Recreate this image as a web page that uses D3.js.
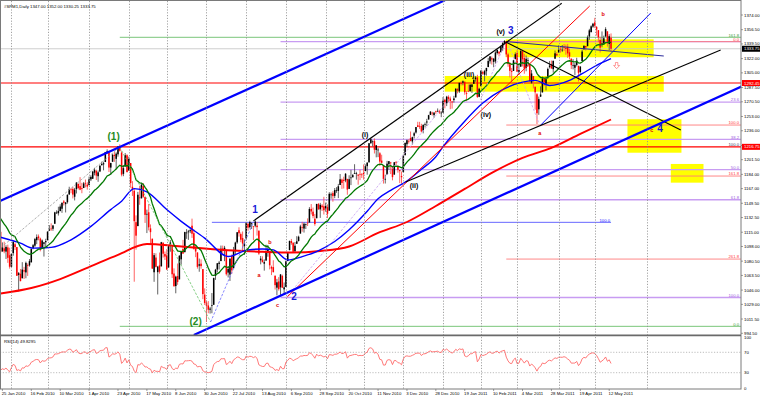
<!DOCTYPE html>
<html lang="en">
<head>
<meta charset="UTF-8">
<title>#SPM1,Daily</title>
<script src="https://d3js.org/d3.v7.min.js"></script>
<style>
  html, body { margin: 0; padding: 0; background: #fff; }
  svg { display: block; font-family: "Liberation Sans", "DejaVu Sans", Arial, sans-serif; }
  .ax { font-size: 4.3px; fill: #000; }
  .fib { font-size: 4.2px; text-anchor: end; }
  .wave { font-weight: bold; text-anchor: middle; dominant-baseline: middle; }
  .labels { opacity: 0.99; }
</style>
</head>
<body>
<div id="chart"></div>
<script>
// closes before the first visible bar, only used to warm up EMA / RSI
const warmupClose = [1127.8, 1126.2, 1126.4, 1115.1, 1133.0, 1136.5, 1137.1, 1141.7, 1145.0, 1147.0,
  1136.2, 1145.7, 1148.5, 1136.0, 1138.0, 1150.2, 1138.0, 1116.5];

// daily bars from 22 Jan 2010 to 13 May 2011
const firstDay = "2010-01-22";
const closedDays = ["2010-12-24", "2011-04-22"];

const open = [
  1115.5,1092.0,1095.8,1091.9,1096.9,1087.6,
  1073.9,1090.1,1100.7,1097.3,1064.1,1065.5,1060.1,1069.7,1067.1,1075.9,1075.5,1079.1,1096.1,1099.0,1105.5,1110.0,1107.5,1095.9,1101.2,1103.1,
  1105.4,1117.0,1119.4,1119.1,1125.1,1138.4,1137.6,1140.2,1143.0,1151.7,1148.5,1150.8,1159.9,1166.1,1166.7,1157.3,1166.5,1172.7,1170.0,1167.6,1167.7,1173.8,1171.8,
  1171.2,1178.0,1178.7,1186.0,1188.2,1181.8,1187.5,1194.9,1195.9,1198.7,1210.8,1210.2,1192.1,1199.0,1207.2,1202.5,1207.9,1217.1,1209.9,1184.6,1193.3,1206.8,
  1188.6,1197.5,1169.2,1164.4,1127.0,1122.3,1156.4,1155.4,1170.0,1157.2,1136.5,1138.8,1119.6,1107.3,1067.3,1084.8,1067.4,1075.5,1074.3,1102.6,1089.0,
  1087.3,1073.0,1098.8,1098.4,1065.8,1050.8,1062.8,1058.8,1082.7,1095.0,1091.2,1114.0,1115.0,1116.2,1122.8,1113.9,1095.6,1090.9,1075.1,1077.5,1071.1,1040.6,
  1031.1,1027.7,1022.6,1028.1,1028.5,1062.9,1070.5,1077.2,1080.6,1095.6,1094.5,1093.9,1066.9,1064.5,1086.7,1072.1,1092.2,1102.9,1117.4,1112.8,1108.1,1098.4,
  1107.5,1125.3,1121.1,1125.8,1122.1,1122.8,1122.9,1116.9,1081.5,1082.2,1077.5,1081.2,1092.1,1092.4,1073.6,1073.4,1063.2,1048.9,1056.3,1049.3,1062.9,1046.9,
  1049.7,1080.7,1093.6,1104.5,1102.6,1092.4,1101.2,1104.6,1113.4,1121.2,1119.4,1123.9,1126.4,1126.6,1142.8,1139.5,1131.1,1131.7,1148.6,1142.3,1146.8,1145.9,
  1143.5,1144.9,1140.7,1159.8,1161.6,1158.4,1165.3,1164.3,1171.3,1177.8,1177.5,1176.8,1178.6,1166.7,1179.8,1180.5,1184.7,1184.9,1183.8,1184.5,1183.9,
  1185.7,1187.9,1193.8,1198.3,1221.2,1223.2,1223.6,1213.1,1213.0,1209.1,1200.4,1194.8,1178.3,1183.8,1196.1,1198.1,1192.5,1183.7,1198.4,1194.2,1189.1,1182.0,
  1186.6,1206.8,1219.9,1223.9,1227.3,1223.2,1230.1,1233.9,1242.5,1241.8,1241.6,1236.3,1243.6,1245.8,1249.4,1254.9,1257.5,1254.7,1259.1,1258.8,1259.4,1256.8,
  1257.6,1272.9,1268.8,1276.3,1274.4,1270.8,1272.6,1275.7,1285.8,1282.9,1293.2,1293.2,1294.5,1280.9,1283.6,1283.3,1288.2,1292.0,1297.5,1299.6,1276.5,
  1289.1,1305.9,1302.8,1307.0,1311.9,1318.8,1322.5,1318.1,1318.7,1328.7,1330.4,1329.6,1334.4,1340.4,1343.0,1327.0,1315.4,1307.1,1307.3,1321.6,
  1328.6,1305.9,1312.4,1330.7,1322.7,1311.1,1319.9,1315.7,1293.4,1301.2,1288.5,1279.5,1261.6,1276.7,1281.7,1298.3,1292.2,1300.6,1311.8,1315.5,1309.4,1321.9,1327.4,
  1329.5,1333.6,1332.0,1335.9,1334.8,1336.2,1329.5,1322.0,1314.0,1311.1,1314.5,1313.4,1306.0,1319.1,1333.2,1337.1,1336.8,1348.4,1353.5,1360.1,
  1365.2,1359.8,1355.9,1344.2,1340.2,1340.2,1348.3,1354.5,1339.4,1347.0
];
const high = [
  1115.5,1102.9,1103.7,1099.5,1100.2,1096.5,
  1089.4,1104.7,1102.7,1097.4,1067.6,1071.2,1079.3,1073.7,1080.0,1077.8,1083.0,1095.7,1101.0,1108.2,1112.4,1112.3,1108.6,1106.4,1103.5,1107.2,
  1116.1,1123.5,1125.6,1123.7,1139.4,1141.1,1145.4,1148.3,1150.2,1153.4,1151.0,1160.3,1169.2,1167.8,1169.2,1167.8,1174.7,1173.0,1180.7,1173.9,1174.9,1177.8,1174.6,
  1181.4,1183.0,1187.7,1191.8,1189.6,1188.6,1194.7,1199.2,1199.0,1210.7,1213.9,1210.2,1197.9,1208.6,1210.9,1210.3,1217.3,1219.8,1211.4,1195.1,1209.4,1207.9,
  1205.1,1197.5,1175.9,1167.6,1135.1,1163.1,1170.5,1172.9,1173.6,1157.2,1141.9,1148.7,1124.3,1107.3,1090.2,1089.9,1074.8,1090.8,1103.5,1102.6,1092.0,
  1094.8,1098.6,1105.7,1098.4,1071.9,1063.2,1077.7,1087.8,1092.0,1105.9,1115.6,1118.7,1117.7,1121.0,1131.2,1118.5,1099.6,1090.9,1083.6,1082.6,1071.1,1048.1,
  1033.6,1032.9,1026.0,1042.5,1060.9,1071.3,1078.2,1080.8,1099.1,1099.1,1098.7,1093.9,1074.7,1083.9,1088.5,1097.5,1103.7,1115.0,1120.9,1114.7,1115.9,1106.4,
  1127.3,1125.4,1128.8,1126.6,1122.1,1129.2,1127.2,1116.9,1086.7,1086.3,1082.6,1100.1,1099.8,1092.4,1075.2,1081.6,1063.2,1059.4,1061.5,1065.2,1064.4,1055.1,
  1081.3,1090.1,1105.1,1107.0,1102.6,1103.3,1110.3,1110.9,1123.9,1127.4,1126.5,1125.4,1131.5,1144.9,1148.6,1144.4,1136.8,1148.9,1149.9,1150.0,1148.6,1157.2,
  1150.3,1148.2,1162.8,1162.3,1163.9,1167.7,1168.7,1172.6,1184.4,1178.9,1181.2,1185.5,1178.6,1182.9,1189.4,1184.4,1196.1,1187.1,1183.8,1189.5,1185.5,
  1195.8,1195.9,1198.3,1221.3,1227.1,1224.6,1226.8,1218.8,1215.5,1210.5,1207.4,1194.8,1183.6,1200.1,1199.9,1198.9,1192.5,1198.6,1200.0,1194.2,1189.1,1187.4,
  1207.6,1221.9,1225.6,1225.8,1235.1,1228.9,1234.7,1240.4,1246.7,1246.6,1244.3,1243.8,1245.8,1250.2,1255.0,1259.4,1258.6,1258.4,1259.9,1262.6,1261.0,1259.3,
  1276.2,1274.1,1277.6,1278.2,1276.8,1271.5,1277.6,1286.9,1287.0,1293.2,1295.0,1296.1,1294.6,1283.4,1291.2,1291.9,1291.3,1299.7,1301.3,1302.7,1287.2,
  1308.1,1307.6,1308.6,1311.0,1322.9,1324.9,1324.5,1322.8,1330.8,1333.0,1330.4,1337.6,1341.5,1344.1,1343.0,1329.0,1317.9,1310.9,1320.6,1329.4,
  1332.1,1314.4,1332.3,1331.1,1327.7,1325.7,1323.2,1315.7,1308.4,1301.2,1288.5,1280.9,1276.7,1288.9,1300.6,1299.0,1300.5,1311.3,1319.2,1319.7,1319.5,1331.7,1329.8,
  1337.9,1336.7,1338.2,1339.4,1338.8,1339.5,1333.8,1322.0,1321.4,1316.8,1323.0,1313.4,1312.7,1332.7,1337.5,1337.1,1349.6,1357.5,1361.7,1364.6,
  1370.6,1360.8,1355.9,1348.0,1354.4,1349.4,1359.4,1354.5,1351.1,1352.0
];
const low = [
  1090.2,1092.0,1089.9,1083.1,1078.5,1071.6,
  1073.9,1087.0,1093.8,1062.8,1044.5,1056.5,1060.1,1059.3,1060.1,1062.9,1074.0,1079.1,1094.7,1097.5,1100.8,1105.4,1092.2,1095.9,1086.0,1097.6,
  1105.4,1116.5,1116.6,1116.7,1125.1,1136.8,1134.9,1140.1,1138.1,1146.9,1138.6,1149.1,1159.9,1161.5,1155.3,1152.9,1161.2,1166.0,1165.1,1161.5,1167.7,1168.5,1165.8,
  1170.7,1176.0,1178.7,1182.8,1177.3,1175.1,1186.7,1194.7,1188.8,1198.7,1208.5,1186.8,1183.7,1199.0,1198.9,1190.2,1205.1,1211.1,1181.6,1181.8,1193.3,1186.3,
  1188.6,1168.1,1158.2,1056.0,1094.2,1122.3,1147.7,1155.4,1156.1,1126.1,1114.0,1117.2,1100.7,1071.6,1055.9,1073.0,1040.8,1065.6,1074.3,1084.8,1082.0,
  1069.9,1072.6,1091.8,1060.5,1050.5,1042.2,1052.3,1058.8,1076.3,1089.0,1091.2,1107.1,1105.9,1113.9,1108.2,1094.2,1085.3,1071.6,1067.9,1071.5,1035.2,1028.3,
  1008.0,1018.4,1018.0,1018.4,1028.5,1058.2,1067.1,1070.5,1080.6,1087.7,1080.5,1063.3,1061.1,1056.9,1065.3,1072.1,1087.9,1101.3,1109.8,1103.1,1092.8,1088.0,
  1107.5,1116.8,1119.5,1118.9,1105.6,1120.9,1111.0,1088.0,1076.7,1079.0,1069.2,1081.2,1085.8,1070.7,1063.9,1067.1,1046.7,1039.8,1045.4,1039.7,1048.8,1040.9,
  1049.7,1080.4,1093.6,1100.0,1091.2,1091.4,1101.2,1103.9,1113.4,1115.6,1114.6,1118.9,1122.4,1126.6,1136.2,1131.6,1122.8,1131.7,1142.0,1132.1,1140.3,1136.1,
  1139.4,1131.9,1140.7,1154.9,1151.4,1155.6,1162.0,1155.7,1171.3,1166.7,1167.1,1174.6,1159.7,1166.7,1171.2,1180.5,1184.7,1177.7,1171.7,1177.1,1179.7,
  1177.7,1187.9,1183.6,1198.3,1220.3,1217.2,1208.9,1204.3,1204.5,1194.1,1197.2,1173.0,1173.1,1183.8,1189.4,1184.3,1176.9,1183.7,1195.0,1186.0,1173.6,1173.0,
  1186.6,1206.8,1216.6,1220.7,1223.3,1219.5,1226.9,1232.6,1240.3,1238.2,1234.0,1232.9,1239.9,1241.5,1249.4,1254.9,1254.1,1251.5,1256.2,1258.8,1256.1,1252.2,
  1257.6,1262.7,1265.4,1270.4,1261.7,1262.3,1269.6,1275.7,1280.5,1281.1,1290.0,1290.2,1278.9,1271.3,1282.1,1282.5,1281.1,1292.0,1294.4,1275.1,1276.0,
  1289.1,1302.6,1294.8,1301.7,1311.9,1316.0,1314.9,1311.7,1316.1,1326.9,1324.6,1329.6,1331.0,1338.1,1324.0,1312.3,1299.6,1294.3,1307.3,1320.9,
  1306.1,1302.6,1312.4,1312.6,1304.0,1306.9,1312.3,1294.2,1292.0,1286.4,1261.1,1244.0,1255.0,1276.2,1281.7,1289.2,1284.1,1297.7,1310.2,1310.2,1305.3,1321.9,1325.0,
  1328.9,1329.1,1330.0,1331.1,1326.6,1322.9,1321.1,1309.5,1309.2,1302.4,1312.7,1294.7,1304.0,1319.1,1332.5,1331.6,1336.8,1344.3,1353.5,1358.7,
  1358.6,1349.5,1341.5,1329.2,1335.6,1338.6,1348.3,1336.4,1332.0,1330.25
];
const close = [
  1091.8,1096.8,1092.2,1097.5,1084.5,1073.9,
  1089.2,1103.3,1097.3,1063.1,1066.2,1056.7,1070.5,1068.1,1078.5,1075.5,1080.5,1094.9,1099.5,1106.8,1109.2,1108.0,1094.6,1105.2,1102.9,1104.5,
  1115.7,1118.3,1118.8,1123.0,1138.7,1138.5,1140.4,1145.6,1150.2,1150.0,1150.5,1159.5,1166.2,1165.8,1159.9,1165.8,1174.2,1167.7,1165.7,1166.6,1173.2,1173.3,1169.4,
  1178.1,1181.0,1187.4,1189.4,1182.5,1186.4,1194.4,1196.5,1197.3,1210.7,1211.7,1192.1,1197.5,1207.2,1205.9,1208.7,1217.3,1212.1,1183.7,1191.4,1206.8,1186.7,
  1202.3,1173.6,1165.9,1128.2,1110.9,1159.7,1155.8,1171.7,1157.4,1135.7,1136.9,1120.8,1115.1,1071.6,1087.7,1073.7,1074.0,1068.0,1103.1,1089.4,1086.0,
  1070.7,1098.4,1102.8,1064.9,1050.5,1062.0,1055.7,1086.8,1091.6,1089.6,1115.2,1114.6,1116.0,1117.5,1113.2,1095.3,1092.0,1073.7,1076.8,1074.6,1041.2,1030.7,
  1027.4,1022.6,1024.0,1028.1,1060.3,1070.3,1078.0,1078.8,1095.3,1095.2,1096.5,1064.9,1071.3,1083.5,1069.6,1093.7,1102.7,1115.0,1113.8,1106.1,1101.5,1101.6,
  1125.9,1120.5,1127.2,1125.8,1121.6,1127.8,1121.1,1089.5,1083.6,1079.3,1079.4,1092.5,1094.2,1075.6,1071.7,1067.4,1051.9,1055.3,1047.2,1064.6,1048.9,1049.3,
  1080.3,1090.1,1104.5,1102.0,1091.8,1098.9,1104.2,1109.6,1121.9,1121.1,1125.1,1124.7,1125.6,1142.7,1139.8,1134.3,1124.8,1148.7,1142.2,1147.7,1144.7,1141.2,
  1146.2,1137.0,1160.8,1160.0,1158.1,1165.2,1165.3,1169.8,1178.1,1173.8,1176.2,1184.7,1165.9,1178.2,1180.3,1183.1,1185.6,1185.6,1182.4,1183.8,1183.3,
  1184.4,1193.6,1198.0,1221.1,1225.9,1223.3,1213.4,1218.7,1213.5,1199.2,1197.8,1178.3,1178.6,1196.7,1199.7,1197.8,1180.7,1198.4,1197.5,1189.4,1187.8,1180.6,
  1206.1,1221.5,1224.7,1223.1,1223.8,1228.3,1233.0,1240.4,1240.5,1241.6,1235.2,1242.9,1243.9,1247.1,1254.6,1258.8,1256.8,1257.5,1258.5,1259.8,1257.9,1257.6,
  1271.9,1270.2,1276.6,1273.9,1271.5,1269.8,1274.5,1286.0,1283.8,1293.2,1292.0,1295.0,1281.9,1280.3,1283.4,1290.8,1291.2,1296.6,1299.5,1276.3,1286.1,
  1307.6,1304.0,1307.1,1310.9,1319.1,1324.6,1320.9,1321.9,1329.2,1332.3,1328.0,1336.3,1340.4,1343.0,1327.0,1315.4,1307.4,1306.1,1319.9,1327.2,
  1306.3,1308.4,1331.0,1321.2,1310.1,1321.8,1320.0,1295.1,1304.3,1296.4,1281.9,1256.9,1273.7,1279.2,1298.4,1293.8,1297.5,1309.7,1313.8,1310.2,1319.4,1328.3,1325.8,
  1332.4,1332.9,1332.6,1335.5,1333.5,1328.2,1324.5,1314.2,1314.4,1314.5,1319.7,1305.1,1312.6,1330.4,1337.4,1335.3,1347.2,1355.7,1360.5,1363.6,
  1361.2,1356.6,1347.3,1335.1,1340.2,1346.3,1357.2,1342.1,1348.7,1333.75
];

// moving averages: [bar index, price]
const ma50 = [[0,1109],[11,1102],[18,1096],[28,1097],[39,1106],[50,1122],[61,1142],[67,1152],[74,1167],[81,1163],
  [92,1142],[100,1128],[113,1108],[126,1086],[137,1094],[145,1095],[151,1094],[159,1082],[167,1086],[175,1092],
  [185,1104],[193,1118],[203,1140],[209,1155],[216,1165],[225,1176],[233,1190],[241,1205],[245,1217],[256,1245],
  [267,1269],[278,1285],[289,1294],[296,1296],[304,1290],[315,1296],[322,1304],[330,1314],[338,1322]];
const ma200 = [[0,1042],[17,1048.5],[33,1059.2],[49,1073.5],[65,1088],[81,1101],[97,1098.6],[113,1095.6],
  [129,1093.2],[145,1091.7],[161,1090.8],[177,1092.6],[193,1098],[209,1114.1],[225,1127.2],[241,1146.3],
  [257,1166.7],[273,1186.9],[289,1203.6],[305,1215.5],[321,1232.2],[338,1249.4]];

// price axis
const priceTicks = ["1374.00","1356.50","1339.50","1322.00","1305.00","1287.50","1270.50","1253.00","1236.00",
  "1218.50","1201.50","1184.00","1167.00","1149.50","1132.50","1115.00","1098.00","1080.50","1063.50","1046.00",
  "1029.00","1011.50","994.50"];
const rsiTicks = [100, 70, 30, 0];
const rsiLevels = [70, 30];
const headerText = "#SPM1,Daily  1347.00 1352.00 1330.25 1333.75";
const rsiText = "RSI(14) 49.8295";
const bidPrice = 1333.75;
const futureGrid = [358];

// horizontal levels
const redLevels = [{price: 1292.9, label: "1292.45"}, {price: 1216.8, label: "1216.75"}];
const greenFib = {from: 66, levels: [["161.8", 1347.4], ["0.0", 1002.8]]};
const purpleFib = {from: 155, levels: [["", 1342.2], ["23.6", 1270.2], ["38.2", 1225.7], ["50.0", 1189.7], ["61.8", 1153.7], ["100.0", 1037.2]]};
const redFib = {from: 280, levels: [["0.0", 1342.2], ["100.0", 1242.8], ["161.8", 1182.0], ["261.8", 1083.0]]};
const blueLevel = {from: 117, to: 338, price: 1126.8, label: "100.0"};

// trend lines: [[bar, price], [bar, price]]
const channelUpper = [[0, 1152.5], [246, 1391.5]];
const channelLower = [[107, 992.5], [410.5, 1289]];
const blackUpper = [[140, 1128.5], [310.7, 1388]];
const blackLower = [[224.3, 1175], [398.7, 1332.3]];
const blackDown = [[279.7, 1341.8], [376.6, 1236.9]];
const redRay = [[158.8, 1038.1], [326.2, 1384.7]];
const blueRay = [[299.1, 1242.8], [360, 1376.4]];
const navyLine = [[280.6, 1342.2], [367.2, 1325.1]];
const waveLinks = [
  {pts: [[1.9, 1099.8], [65.4, 1215.4]], c: "#9a9a9a"},
  {pts: [[66, 1216.6], [116.3, 1008]], c: "#66c266"},
  {pts: [[116.3, 1008], [140.1, 1127.6]], c: "#6a6aff"},
  {pts: [[159, 1039], [246.6, 1269]], c: "#c8a0f0"},
  {pts: [[265.7, 1272.7], [279.7, 1341.8]], c: "#c8a0f0"},
  {pts: [[280.6, 1342.2], [298.1, 1244.9]], c: "#c8a0f0"}
];

// yellow zones: [bar0, bar1, priceTop, priceBottom]
const zones = [[279.7, 361.6, 1345.0, 1323.6], [245.9, 367.2, 1301.3, 1282.6],
  [347.1, 377, 1249.7, 1209.8], [371.1, 389.2, 1196.4, 1174.1]];

// wave labels: [text, bar, price, kind]
const waveLabels = [
  ["(1)", 62.6, 1228.6, "major"], ["(2)", 108, 1008, "major"],
  ["1", 140.9, 1140.7, "blue"], ["2", 162.5, 1037.4, "blue"], ["3", 282.5, 1354.1, "blue"], ["4", 365.1, 1237.7, "blue"],
  ["a", 143.1, 1062.8, "small"], ["b", 149.2, 1102.5, "small"], ["c", 153.3, 1027, "small"],
  ["(i)", 201.8, 1231, "minor"], ["(ii)", 228.9, 1170.5, "minor"], ["(iii)", 259.4, 1302.3, "minor"],
  ["(iv)", 268.7, 1254.6, "minor"], ["(v)", 276.9, 1353.4, "minor"],
  ["a", 298.5, 1232.1, "small"], ["b", 333.6, 1374, "small"], ["c", 360.5, 1235.7, "small"]
];
const arrowMark = [341.1, 1313.2];

// ---- layout ----
const W = 760, H = 398;
const right = 741;
const mainTop = 1, mainBottom = 335, rsiTop = 336, rsiBottom = 389;

// trading days
const parse = d3.utcParse("%Y-%m-%d"), fmtKey = d3.utcFormat("%Y-%m-%d");
const dates = [];
for (let d = parse(firstDay); dates.length < close.length; d = d3.utcDay.offset(d, 1)) {
  const wd = d.getUTCDay();
  if (wd === 0 || wd === 6 || closedDays.includes(fmtKey(d))) continue;
  dates.push(d);
}
const bars = close.map((c, k) => ({k, date: dates[k], o: open[k], h: high[k], l: low[k], c}));

const x = d3.scaleLinear().domain([1, 338]).range([2.4, 2.4 + 337 * 1.806]);
const y = d3.scaleLinear().domain([994.5, 1374]).range([333.3, 15]);
const yr = d3.scaleLinear().domain([0, 100]).range([388, 337]);

// indicators
const allClose = warmupClose.concat(close);
const off = warmupClose.length;
const ema = [];
let e = allClose[0];
const alpha = 2 / (20 + 1);
allClose.forEach((c, i) => { e = i === 0 ? c : alpha * c + (1 - alpha) * e; if (i >= off) ema.push([i - off, e]); });

const rsi = [];
let ag = 0, al = 0;
for (let i = 1; i < allClose.length; i++) {
  const ch = allClose[i] - allClose[i - 1];
  const g = Math.max(ch, 0), l = Math.max(-ch, 0);
  if (i <= 14) { ag += g / 14; al += l / 14; }
  else { ag = (ag * 13 + g) / 14; al = (al * 13 + l) / 14; }
  if (i >= 14 && i >= off) rsi.push([i - off, al === 0 ? 100 : 100 - 100 / (1 + ag / al)]);
}

// ---- svg ----
const svg = d3.select("#chart").append("svg").attr("width", W).attr("height", H);
svg.append("rect").attr("width", W).attr("height", H).attr("fill", "#fff");

const defs = svg.append("defs");
defs.append("clipPath").attr("id", "clipMain").append("rect")
  .attr("x", 0).attr("y", mainTop).attr("width", right).attr("height", mainBottom - mainTop);
defs.append("clipPath").attr("id", "clipRsi").append("rect")
  .attr("x", 0).attr("y", rsiTop).attr("width", right).attr("height", rsiBottom - rsiTop);

const gMain = svg.append("g").attr("clip-path", "url(#clipMain)");
const gRsi = svg.append("g").attr("clip-path", "url(#clipRsi)");

// yellow zones (background)
gMain.selectAll(".zone").data(zones).join("rect")
  .attr("x", d => x(d[0])).attr("width", d => x(d[1]) - x(d[0]))
  .attr("y", d => y(d[2])).attr("height", d => y(d[3]) - y(d[2]))
  .attr("fill", "#ffff00");

// vertical grid at month starts
const gridK = bars.filter((b, i) => i > 0 && b.date.getUTCMonth() !== bars[i - 1].date.getUTCMonth()).map(b => b.k)
  .concat(futureGrid);
svg.append("g").selectAll("line").data(gridK).join("line")
  .attr("x1", d => Math.round(x(d)) + 0.5).attr("x2", d => Math.round(x(d)) + 0.5)
  .attr("y1", mainTop).attr("y2", rsiBottom)
  .attr("stroke", "#8c8c8c").attr("stroke-width", 0.8).attr("stroke-dasharray", "1.2,1.6");

// bid line
gMain.append("line").attr("x1", 0).attr("x2", right).attr("y1", y(bidPrice)).attr("y2", y(bidPrice))
  .attr("stroke", "#c8c8c8").attr("stroke-width", 0.9);

// fibonacci levels
function fibLines(fib, color, width, labelColor) {
  const g = gMain.append("g");
  g.selectAll("line").data(fib.levels).join("line")
    .attr("x1", x(fib.from)).attr("x2", right)
    .attr("y1", d => y(d[1])).attr("y2", d => y(d[1]))
    .attr("stroke", color).attr("stroke-width", width);
  g.selectAll("text").data(fib.levels.filter(d => d[0])).join("text")
    .attr("class", "fib").attr("x", right - 2).attr("y", d => y(d[1]) - 0.8)
    .attr("fill", labelColor).text(d => d[0]);
}
fibLines(purpleFib, "#c89cf2", 1.3, "#a060e0");
fibLines(redFib, "#ff7a7a", 0.9, "#ff4040");
fibLines(greenFib, "#6cbf6c", 0.9, "#3c9c3c");

gMain.append("line").attr("x1", x(blueLevel.from)).attr("x2", x(blueLevel.to))
  .attr("y1", y(blueLevel.price)).attr("y2", y(blueLevel.price))
  .attr("stroke", "#4040ff").attr("stroke-width", 0.8);
gMain.append("text").attr("class", "fib").attr("x", x(blueLevel.to) - 1).attr("y", y(blueLevel.price) - 0.8)
  .attr("fill", "#2020ff").text(blueLevel.label);

// red horizontal levels
gMain.selectAll(".redlvl").data(redLevels).join("line")
  .attr("x1", 0).attr("x2", right).attr("y1", d => y(d.price)).attr("y2", d => y(d.price))
  .attr("stroke", "#ff0000").attr("stroke-width", 1.2);
gMain.append("text").attr("class", "fib").attr("x", right - 2).attr("y", y(redLevels[1].price) - 1.2)
  .attr("fill", "#404060").text("100.0");

// candles
const gBars = gMain.append("g");
gBars.selectAll("line").data(bars).join("line")
  .attr("x1", d => x(d.k)).attr("x2", d => x(d.k))
  .attr("y1", d => y(d.h)).attr("y2", d => y(d.l))
  .attr("stroke", d => d.c >= d.o ? "#505050" : "#ff5050").attr("stroke-width", 0.9);
gBars.selectAll("rect").data(bars).join("rect")
  .attr("x", d => x(d.k) - 0.75).attr("width", 1.5)
  .attr("y", d => y(Math.max(d.o, d.c)))
  .attr("height", d => Math.max(0.7, Math.abs(y(d.o) - y(d.c))))
  .attr("fill", d => d.c >= d.o ? "#000" : "#ff0000");

// moving averages
const lineGen = d3.line().x(d => x(d[0])).y(d => y(d[1]));
const smooth = d3.line().x(d => x(d[0])).y(d => y(d[1])).curve(d3.curveMonotoneX);
gMain.append("path").datum(ma200).attr("d", smooth).attr("fill", "none").attr("stroke", "#ff0000").attr("stroke-width", 1.9);
gMain.append("path").datum(ma50).attr("d", smooth).attr("fill", "none").attr("stroke", "#0000ff").attr("stroke-width", 1.4);
gMain.append("path").datum(ema).attr("d", lineGen).attr("fill", "none").attr("stroke", "#007800").attr("stroke-width", 1.3);

// trend lines
function seg(pts, color, width, dash) {
  gMain.append("path").datum(pts).attr("d", lineGen).attr("fill", "none")
    .attr("stroke", color).attr("stroke-width", width).attr("stroke-dasharray", dash || null);
}
waveLinks.forEach(w => seg(w.pts, w.c, 0.8, "2.5,1.5"));
seg(redRay, "#ff0000", 1);
seg(blueRay, "#0000ff", 1);
seg(navyLine, "#2a2a9a", 1);
seg(blackUpper, "#000", 1.1);
seg(blackLower, "#000", 1.1);
seg(blackDown, "#000", 1.1);
seg(channelUpper, "#0000ff", 2.2);
seg(channelLower, "#0000ff", 2.2);

// wave labels
const waveStyle = {
  major: {size: 10, fill: "#228b22"},
  blue: {size: 10, fill: "#1515d8"},
  minor: {size: 7, fill: "#000000"},
  small: {size: 5.5, fill: "#e00000"}
};
gMain.append("g").attr("class", "labels")
  .selectAll(".wave").data(waveLabels).join("text")
  .attr("class", "wave").attr("x", d => x(d[1])).attr("y", d => y(d[2]))
  .attr("font-size", d => waveStyle[d[3]].size).style("fill", d => waveStyle[d[3]].fill)
  .text(d => d[0]);

// hollow down arrow
const ax0 = x(arrowMark[0]), ay0 = y(arrowMark[1]);
gMain.append("path")
  .attr("d", `M${ax0 - 1.2},${ay0 - 3.5}h2.4v3h1.8l-3,3.2l-3,-3.2h1.8z`)
  .attr("fill", "#fff").attr("stroke", "#ff7070").attr("stroke-width", 0.7);

// RSI
gRsi.selectAll(".lvl").data(rsiLevels).join("line")
  .attr("x1", 0).attr("x2", right).attr("y1", d => yr(d)).attr("y2", d => yr(d))
  .attr("stroke", "#a0a0a0").attr("stroke-width", 0.7).attr("stroke-dasharray", "1.2,1.6");
gRsi.append("path").datum(rsi)
  .attr("d", d3.line().x(d => x(d[0])).y(d => yr(d[1])))
  .attr("fill", "none").attr("stroke", "#ff6a6a").attr("stroke-width", 0.9);

// frames
svg.append("rect").attr("x", 0.5).attr("y", 0.5).attr("width", right - 0.5).attr("height", rsiBottom - 0.5)
  .attr("fill", "none").attr("stroke", "#7a7a7a").attr("stroke-width", 1);
svg.append("line").attr("x1", 0).attr("x2", right).attr("y1", mainBottom + 0.3).attr("y2", mainBottom + 0.3)
  .attr("stroke", "#6a6a6a").attr("stroke-width", 1.8);

// header texts
svg.append("text").attr("class", "ax").attr("x", 4).attr("y", 7.5).text(headerText);
svg.append("text").attr("class", "ax").attr("x", 4).attr("y", 342.5).text(rsiText);

// price axis labels
const gAxis = svg.append("g");
gAxis.selectAll("text").data(priceTicks).join("text")
  .attr("class", "ax").attr("x", right + 3).attr("y", d => y(+d)).attr("dy", "0.35em").text(d => d);
gAxis.selectAll("line").data(priceTicks).join("line")
  .attr("x1", right).attr("x2", right + 2).attr("y1", d => y(+d)).attr("y2", d => y(+d))
  .attr("stroke", "#606060").attr("stroke-width", 0.6);

function priceTag(price, label, bg) {
  const g = svg.append("g");
  g.append("rect").attr("x", right + 1).attr("y", y(price) - 3).attr("width", 18).attr("height", 6).attr("fill", bg);
  g.append("text").attr("class", "ax").attr("x", right + 3).attr("y", y(price)).attr("dy", "0.35em")
    .style("fill", "#fff").text(label);
}
redLevels.forEach(d => priceTag(d.price, d.label, "#ff0000"));
priceTag(bidPrice, bidPrice.toFixed(2), "#000");

// RSI axis
svg.append("g").selectAll("text").data(rsiTicks).join("text")
  .attr("class", "ax").attr("x", right + 3).attr("y", d => yr(d)).attr("dy", "0.35em").text(d => d);

// date axis
const fmtDate = d3.utcFormat("%-d %b %Y");
const dateK = bars.filter(b => b.k >= 1 && (b.k - 1) % 16 === 0);
const gDate = svg.append("g");
gDate.selectAll("text").data(dateK).join("text")
  .attr("class", "ax").attr("x", d => x(d.k) - 0.7).attr("y", 395).text(d => fmtDate(d.date));
gDate.selectAll("line").data(dateK).join("line")
  .attr("x1", d => x(d.k)).attr("x2", d => x(d.k)).attr("y1", rsiBottom).attr("y2", rsiBottom + 2)
  .attr("stroke", "#606060").attr("stroke-width", 0.6);
</script>
</body>
</html>
